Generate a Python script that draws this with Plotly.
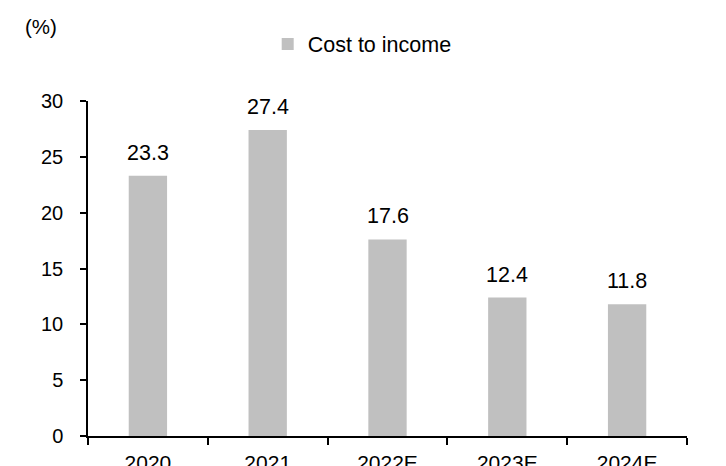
import plotly.graph_objects as go

# Cost-to-income ratio by year (%)
years = ["2020", "2021", "2022E", "2023E", "2024E"]
cost_to_income = [23.3, 27.4, 17.6, 12.4, 11.8]
y_ticks = [0, 5, 10, 15, 20, 25, 30]

FONT = "Arial, Liberation Sans, sans-serif"
BAR_COLOR = "#C0C0C0"

fig = go.Figure()
fig.add_trace(go.Bar(
    x=years,
    y=cost_to_income,
    name="Cost to income",
    marker=dict(color=BAR_COLOR, line=dict(width=0)),
    width=0.32,
))

# value labels above each bar (x given as category index)
for i, v in enumerate(cost_to_income):
    fig.add_annotation(
        x=i, y=v, text=f"{v:.1f}", showarrow=False,
        yanchor="bottom", yshift=9,
        font=dict(family=FONT, size=21.5, color="black"),
    )

# unit label
fig.add_annotation(
    xref="paper", yref="paper", x=-0.108, y=1.221,
    xanchor="left", yanchor="middle", text="(%)", showarrow=False,
    font=dict(family=FONT, size=20.5, color="black"),
)

fig.update_layout(
    width=726, height=466,
    margin=dict(l=88, r=39, t=101, b=30, autoexpand=False),
    paper_bgcolor="white", plot_bgcolor="white",
    font=dict(family=FONT, size=20, color="black"),
    showlegend=True,
    legend=dict(
        orientation="h", x=0.300, xanchor="left", y=1.17, yanchor="middle",
        font=dict(family=FONT, size=21.5, color="black"),
        itemwidth=30, bgcolor="rgba(0,0,0,0)",
    ),
    xaxis=dict(
        type="category", categoryorder="array", categoryarray=years,
        range=[-0.5, len(years) - 0.5], automargin=False,
        showline=True, linecolor="black", linewidth=1.5,
        ticks="outside", tickson="boundaries", ticklen=7, tickwidth=1.5,
        tickcolor="black", showgrid=False, zeroline=False, tickangle=0,
        tickfont=dict(family=FONT, size=21, color="black"),
        ticklabelstandoff=7,
    ),
    yaxis=dict(
        range=[0, 30], tickvals=y_ticks, automargin=False,
        showline=True, linecolor="black", linewidth=1.5,
        ticks="outside", ticklen=6, tickwidth=1.5, tickcolor="black",
        showgrid=False, zeroline=False,
        tickfont=dict(family=FONT, size=20, color="black"),
        ticklabelstandoff=13,
    ),
)

fig.write_html("out.html")
